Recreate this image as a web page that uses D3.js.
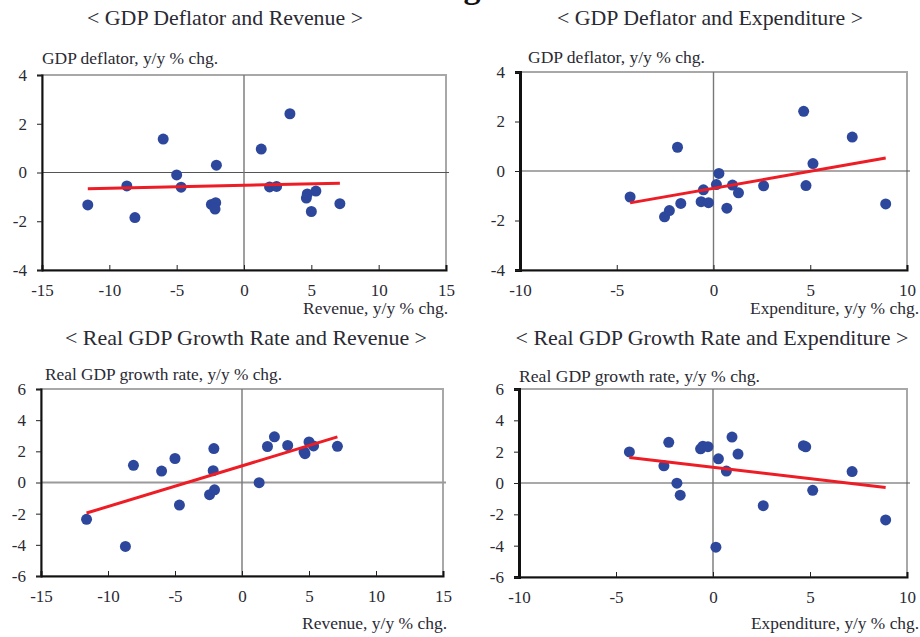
<!DOCTYPE html>
<html>
<head>
<meta charset="utf-8">
<script src="https://cdn.jsdelivr.net/npm/d3@7"></script>
<style>
  body { margin: 0; background: #fff; }
  svg text { font-family: "Liberation Serif", "Times New Roman", "DejaVu Serif", serif; }
</style>
</head>
<body>
<svg id="chart" width="920" height="637"></svg>
<script>
// one entry per year: revenue / expenditure growth vs deflator / real GDP growth
var revenue     = [-11.6, -8.7, -8.1, -6.0, -5.0, -4.67, -2.42, -2.1, -2.15, -2.05, 1.28, 3.41, 1.9, 2.42, 4.63, 4.7, 5.0, 5.34, 7.12];
var expenditure = [8.9, 0.15, -2.53, 7.17, 0.28, 2.59, -1.69, -0.64, 0.69, 5.14, -1.86, 4.66, 4.78, 0.98, -4.31, 1.29, -2.28, -0.52, -0.26];
var deflator    = [-1.33, -0.55, -1.85, 1.37, -0.1, -0.6, -1.31, -1.24, -1.5, 0.3, 0.96, 2.41, -0.59, -0.57, -1.05, -0.88, -1.6, -0.76, -1.28];
var growth      = [-2.36, -4.1, 1.1, 0.73, 1.54, -1.45, -0.78, 2.18, 0.76, -0.47, -0.01, 2.38, 2.31, 2.93, 1.98, 1.85, 2.6, 2.35, 2.32];

var revTicks = [-15, -10, -5, 0, 5, 10, 15];
var expTicks = [-10, -5, 0, 5, 10];
var deflTicks = [-4, -2, 0, 2, 4];
var growthTicks = [-6, -4, -2, 0, 2, 4, 6];

var titles = [
  "< GDP Deflator and Revenue >",
  "< GDP Deflator and Expenditure >",
  "< Real GDP Growth Rate and Revenue >",
  "< Real GDP  Growth Rate and Expenditure >"
];
var yTitles = [
  "GDP deflator, y/y % chg.",
  "GDP deflator, y/y %  chg.",
  "Real GDP growth rate, y/y %  chg.",
  "Real GDP growth rate,  y/y %  chg."
];
var xTitles = [
  "Revenue, y/y %  chg.",
  "Expenditure, y/y %  chg.",
  "Revenue, y/y %  chg.",
  "Expenditure, y/y %  chg."
];

// box = [left, right, top, bottom]; text entries = [x, baseline, width]
var panels = [
  { xs: revenue, ys: deflator, xt: revTicks, yt: deflTicks, box: [42, 446, 75, 270], title: [225, 25, 276], yTitle: [42, 64, 176], xTitle: [448, 314, 145], leftW: 2 },
  { xs: expenditure, ys: deflator, xt: expTicks, yt: deflTicks, box: [520, 907, 72, 270], title: [710, 25, 306], yTitle: [528, 63, 177], xTitle: [919, 314, 169], leftW: 3 },
  { xs: revenue, ys: growth, xt: revTicks, yt: growthTicks, box: [41, 443, 389, 576], title: [246, 345, 362], yTitle: [45, 380, 237], xTitle: [447, 629, 145], leftW: 2 },
  { xs: expenditure, ys: growth, xt: expTicks, yt: growthTicks, box: [519, 907, 389, 577], title: [712, 345, 393], yTitle: [519, 382, 241], xTitle: [919, 629, 168], leftW: 3 }
];

var serif = "'Liberation Serif', 'Times New Roman', serif";
var svg = d3.select("#chart");
var textCol = "#2a2a33";

// fragment of the page heading cut off at the top
svg.append("text").attr("x", 472).attr("y", -2).attr("text-anchor", "middle")
  .attr("font-family", serif).style("font-size", "34px").style("font-weight", "bold").attr("fill", "#111").text("g");

function fit(xs, ys) {
  var mx = d3.mean(xs), my = d3.mean(ys);
  var sxy = d3.sum(xs, function (x, i) { return (x - mx) * (ys[i] - my); });
  var sxx = d3.sum(xs, function (x) { return (x - mx) * (x - mx); });
  var b = sxy / sxx;
  return { b: b, a: my - b * mx };
}

panels.forEach(function (p, k) {
  var x = d3.scaleLinear().domain(d3.extent(p.xt)).range([p.box[0], p.box[1]]);
  var y = d3.scaleLinear().domain(d3.extent(p.yt)).range([p.box[3], p.box[2]]);
  var g = svg.append("g");

  g.append("text").attr("x", p.title[0]).attr("y", p.title[1]).attr("text-anchor", "middle")
    .attr("textLength", p.title[2]).attr("lengthAdjust", "spacingAndGlyphs")
    .attr("font-family", serif).style("font-size", "22px").attr("fill", textCol).text(titles[k]);

  // frame: grey top/right, black left/bottom
  g.append("rect").attr("x", p.box[0]).attr("y", p.box[2])
    .attr("width", p.box[1] - p.box[0]).attr("height", p.box[3] - p.box[2])
    .attr("fill", "none").attr("stroke", "#a8a8a8").attr("stroke-width", 2);

  // zero lines
  g.append("line").attr("x1", p.box[0]).attr("x2", p.box[1] + 3)
    .attr("y1", y(0)).attr("y2", y(0)).attr("stroke", k === 2 ? "#9a9a9a" : "#555").attr("stroke-width", k === 2 ? 2 : 1.2);
  g.append("line").attr("x1", x(0)).attr("x2", x(0))
    .attr("y1", p.box[2]).attr("y2", p.box[3]).attr("stroke", "#777").attr("stroke-width", 1.4);

  // axes
  var xAxis = d3.axisBottom(x).tickValues(p.xt).tickSize(-5).tickPadding(14).tickFormat(d3.format("d"));
  var yAxis = d3.axisLeft(y).tickValues(p.yt).tickSize(5).tickPadding(10).tickFormat(d3.format("d"));
  var gx = g.append("g").attr("transform", "translate(0," + p.box[3] + ")").call(xAxis).attr("font-family", serif);
  var gy = g.append("g").attr("transform", "translate(" + p.box[0] + ",0)").call(yAxis).attr("font-family", serif);
  [gx, gy].forEach(function (ax) {
    ax.selectAll("text").attr("font-family", serif).style("font-size", "17px").attr("fill", textCol)
      .text(function (d) { return String(d).replace("\u2212", "-"); });
    ax.selectAll(".tick line").attr("stroke", "#222").attr("stroke-width", 1);
  });
  gx.select(".domain").attr("stroke", "#111").attr("stroke-width", 2);
  gy.select(".domain").attr("stroke", "#111").attr("stroke-width", p.leftW);
  gx.selectAll(".tick line").filter(function (d) { return d === p.xt[0] || d === p.xt[p.xt.length - 1]; }).remove();

  g.append("text").attr("x", p.yTitle[0]).attr("y", p.yTitle[1])
    .attr("textLength", p.yTitle[2]).attr("lengthAdjust", "spacingAndGlyphs")
    .attr("font-family", serif).style("font-size", "16px").attr("fill", textCol).text(yTitles[k]);
  g.append("text").attr("x", p.xTitle[0]).attr("y", p.xTitle[1]).attr("text-anchor", "end")
    .attr("textLength", p.xTitle[2]).attr("lengthAdjust", "spacingAndGlyphs")
    .attr("font-family", serif).style("font-size", "16px").attr("fill", textCol).text(xTitles[k]);

  // points
  g.selectAll("circle").data(p.xs).enter().append("circle")
    .attr("cx", function (d) { return x(d); })
    .attr("cy", function (d, i) { return y(p.ys[i]); })
    .attr("r", 5.5).attr("fill", "#2d479c");

  // least-squares trend over the data range
  var f = fit(p.xs, p.ys);
  var ext = d3.extent(p.xs);
  g.append("line")
    .attr("x1", x(ext[0])).attr("y1", y(f.a + f.b * ext[0]))
    .attr("x2", x(ext[1])).attr("y2", y(f.a + f.b * ext[1]))
    .attr("stroke", "#ee1c25").attr("stroke-width", 3);
});
</script>
</body>
</html>
